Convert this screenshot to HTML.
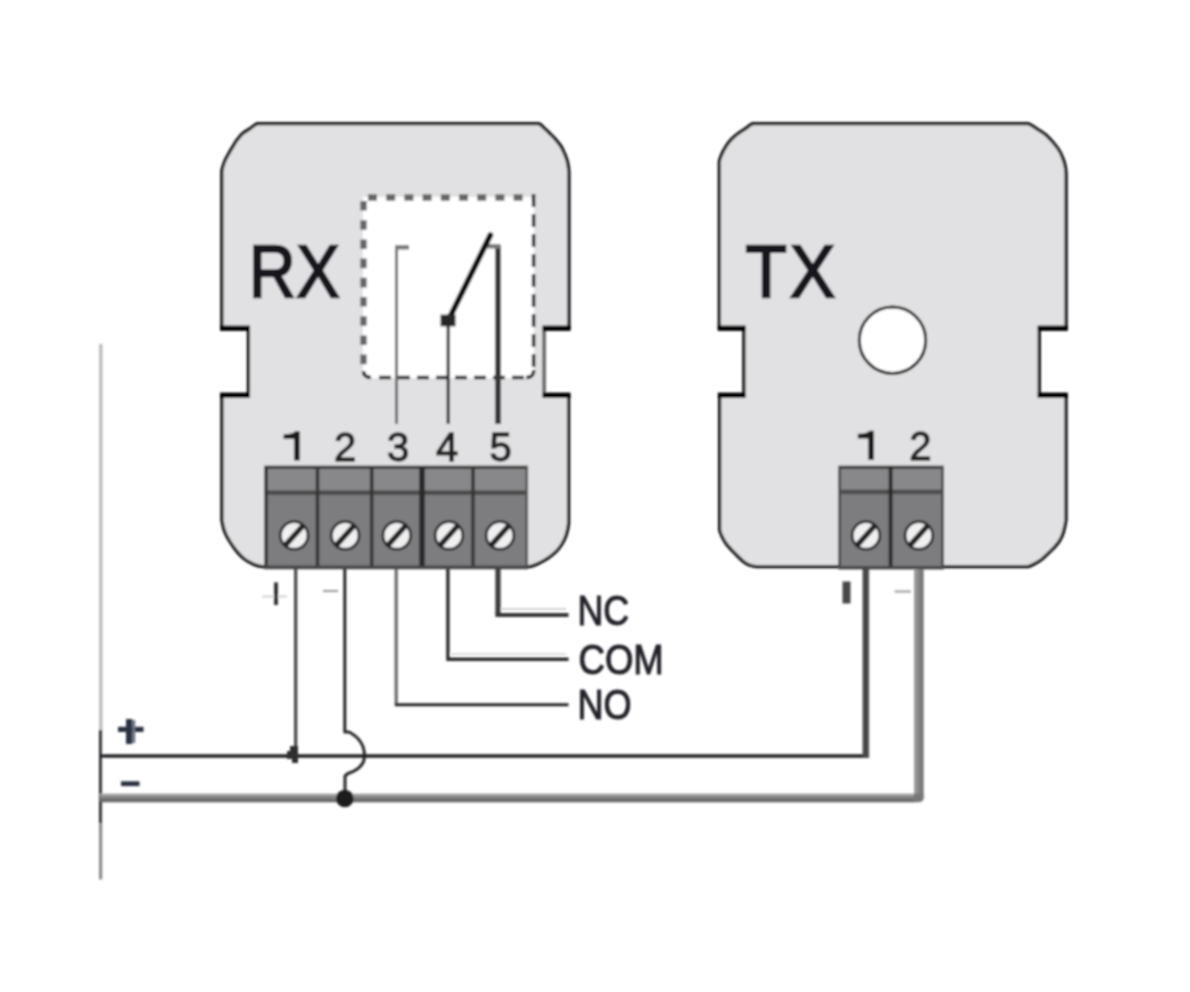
<!DOCTYPE html>
<html><head><meta charset="utf-8">
<style>
html,body{margin:0;padding:0;background:#fff;}
body{width:1190px;height:992px;overflow:hidden;font-family:"Liberation Sans",sans-serif;}
svg{display:block;}
text{font-family:"Liberation Sans",sans-serif;}
</style></head><body>
<svg width="1190" height="992" viewBox="0 0 1190 992">
<defs>
<filter id="b" x="-5%" y="-5%" width="110%" height="110%"><feGaussianBlur stdDeviation="0.9"/></filter>
<linearGradient id="mg" x1="0" y1="0" x2="0" y2="1"><stop offset="0" stop-color="#b4b4b4"/><stop offset="0.45" stop-color="#808080"/><stop offset="1" stop-color="#5e5e5e"/></linearGradient>
<linearGradient id="vg" x1="0" y1="0" x2="1" y2="0"><stop offset="0" stop-color="#a2a2a2"/><stop offset="0.5" stop-color="#868686"/><stop offset="1" stop-color="#6c6c6c"/></linearGradient>
<linearGradient id="pg" x1="0" y1="0" x2="1" y2="0"><stop offset="0" stop-color="#484848"/><stop offset="0.6" stop-color="#444"/><stop offset="1" stop-color="#666"/></linearGradient>
<g id="screw">
<circle r="13.8" fill="#f0f0f0" stroke="#2c2c2e" stroke-width="2.8"/>
<line x1="-9.2" y1="10.2" x2="9.2" y2="-10.2" stroke="#242426" stroke-width="5.4"/>
</g>
</defs>
<rect width="1190" height="992" fill="#fff"/>
<g filter="url(#b)">
<!-- left vertical line -->
<line x1="100.8" y1="344" x2="100.8" y2="879" stroke="#bcbcc0" stroke-width="3.4"/>
<line x1="100.5" y1="730" x2="100.5" y2="823" stroke="#2e2e34" stroke-width="3"/>
<line x1="100.5" y1="823" x2="100.5" y2="879.5" stroke="#8a8a8e" stroke-width="2.8"/>

<!-- RX box -->
<path id="rxbox" d="M538.7,123.7 C541.0,124.4 541.9,126.2 543.8,127.8 C545.7,129.4 548.0,131.7 550.0,133.6 C552.0,135.5 553.8,137.3 555.6,139.4 C557.4,141.5 559.3,143.7 560.8,146.0 C562.3,148.3 563.4,150.8 564.5,153.5 C565.6,156.2 566.9,159.3 567.6,162.4 C568.3,165.5 568.7,169.1 568.9,172.0 V328.2 H544.2 V395.3 H568.6 V524.0 C568.2,527.3 567.3,531.5 566.3,534.7 C565.2,538.0 564.0,540.7 562.3,543.5 C560.6,546.3 558.8,548.9 556.3,551.4 C553.8,553.9 550.7,556.3 547.6,558.4 C544.5,560.5 540.9,562.3 537.9,563.7 C534.9,565.1 532.1,566.0 529.8,566.6 H262.4 C259.6,566.4 256.4,565.6 253.5,564.3 C250.6,563.0 247.4,561.4 244.7,559.3 C241.9,557.2 239.5,554.6 237.0,551.6 C234.5,548.6 231.9,544.9 229.8,541.5 C227.7,538.1 225.9,535.1 224.6,531.5 C223.3,527.9 222.4,523.2 221.9,520.0 V395.3 H248.4 V328.2 H221.8 V171.3 C222.2,168.0 223.2,165.1 224.4,162.0 C225.6,158.9 227.7,155.5 229.2,152.7 C230.7,149.9 232.3,147.5 233.6,145.3 C234.9,143.2 235.7,141.8 237.2,139.8 C238.7,137.9 240.4,135.5 242.6,133.6 C244.8,131.7 247.9,130.0 250.4,128.3 C252.9,126.7 255.0,124.5 257.6,123.7 Z" fill="#e1e1e3" stroke="#161616" stroke-width="3.3"/>
<!-- TX box -->
<path id="txbox" d="M1028.2,123.7 C1031.0,124.5 1033.5,126.7 1036.5,128.6 C1039.5,130.5 1043.2,132.6 1046.0,135.0 C1048.8,137.4 1051.4,140.4 1053.6,143.0 C1055.8,145.6 1057.7,147.9 1059.2,150.5 C1060.8,153.1 1061.9,155.7 1062.9,158.4 C1063.9,161.1 1064.8,163.8 1065.3,166.5 C1065.8,169.2 1066.0,171.9 1066.1,174.5 V328.2 H1039.3 V395.3 H1066.0 V520.0 C1065.5,523.5 1064.2,529.6 1063.2,533.0 C1062.2,536.4 1061.1,538.3 1059.7,540.6 C1058.3,542.9 1056.5,544.8 1054.8,546.8 C1053.0,548.8 1051.3,550.3 1049.2,552.4 C1047.1,554.5 1044.3,557.3 1041.9,559.2 C1039.5,561.1 1037.0,562.5 1034.7,563.7 C1032.4,564.9 1030.7,566.1 1028.2,566.6 H756.6 C753.9,566.4 750.7,565.6 748.5,564.7 C746.3,563.8 745.2,563.0 743.3,561.5 C741.4,560.0 739.2,557.7 737.3,555.8 C735.3,553.9 733.5,552.0 731.6,550.0 C729.8,548.0 727.8,545.9 726.2,543.7 C724.7,541.6 723.4,539.4 722.3,537.1 C721.2,534.8 720.1,532.5 719.6,530.0 V395.3 H743.9 V328.2 H719.3 V161.6 C719.8,158.5 721.0,156.1 722.1,153.5 C723.2,150.9 724.5,148.6 726.0,146.3 C727.5,144.0 728.9,141.9 730.8,139.8 C732.7,137.8 735.0,135.9 737.5,134.0 C740.0,132.1 743.0,130.3 745.5,128.6 C748.0,126.9 750.0,124.5 752.6,123.7 Z" fill="#e1e1e3" stroke="#161616" stroke-width="3.3"/>
<g stroke="#050505" stroke-width="5.4" stroke-linecap="butt"><line x1="220" y1="328.2" x2="250" y2="328.2"/><line x1="220" y1="395.3" x2="250" y2="395.3"/><line x1="542.6" y1="328.2" x2="570.5" y2="328.2"/><line x1="542.6" y1="395.3" x2="570.5" y2="395.3"/><line x1="717.8" y1="328.2" x2="745.6" y2="328.2"/><line x1="717.8" y1="395.3" x2="745.6" y2="395.3"/><line x1="1037.7" y1="328.2" x2="1067.8" y2="328.2"/><line x1="1037.7" y1="395.3" x2="1067.8" y2="395.3"/></g>

<line x1="544.2" y1="331.5" x2="544.2" y2="392.5" stroke="#707070" stroke-width="3.4"/>
<!-- dashed box -->
<rect x="363" y="197" width="171" height="181" fill="#fff"/>
<line x1="368" y1="197.5" x2="534" y2="197.5" stroke="#666" stroke-width="6.4" stroke-dasharray="9,9.2"/>
<line x1="363.5" y1="201" x2="363.5" y2="372" stroke="#666" stroke-width="6.4" stroke-dasharray="9.6,9.6"/>
<line x1="533.6" y1="194" x2="533.6" y2="374" stroke="#2a2a2a" stroke-width="3.5" stroke-dasharray="13,7"/>
<line x1="379" y1="377.4" x2="530" y2="377.4" stroke="#2a2a2a" stroke-width="3.5" stroke-dasharray="12,7"/>
<path d="M363.5,371 Q363.5,377.4 371,377.4" fill="none" stroke="#2a2a2a" stroke-width="3.5"/>
<path d="M533.8,370 Q533.8,377.6 526,377.6" fill="none" stroke="#2a2a2a" stroke-width="3.5"/>

<!-- switch -->
<path d="M396.5,247 V424" fill="none" stroke="#6a6a6a" stroke-width="3"/>
<rect x="395" y="245" width="14" height="4.6" fill="#7a7a7a"/>
<path d="M448.2,319 V424" fill="none" stroke="#303030" stroke-width="3.2"/>
<path d="M498,245.5 V424" fill="none" stroke="#383838" stroke-width="6"/>
<rect x="487.5" y="244" width="13" height="4.6" fill="#7a7a7a"/>
<line x1="448" y1="321" x2="490.4" y2="235" stroke="#0c0c0c" stroke-width="5.8" stroke-linecap="round"/>
<rect x="440.5" y="314.6" width="15" height="11.8" fill="#262626"/>

<!-- text RX/TX -->
<g font-size="75" fill="#17171b" stroke="#17171b" stroke-width="2.6">
<text transform="translate(249,296.5) scale(0.86,1)">R</text>
<text transform="translate(296.5,296.5) scale(0.86,1)">X</text>
<text transform="translate(745.5,296.5) scale(0.9,1)">T</text>
<text transform="translate(790,296.5) scale(0.9,1)">X</text>
</g>

<!-- circle -->
<circle cx="892.5" cy="340.2" r="33.2" fill="#fff" stroke="#141414" stroke-width="3"/>

<!-- RX numbers -->
<g font-size="40" fill="#222" stroke="#222" stroke-width="1.3" text-anchor="middle">
<text x="345" y="460.5">2</text>
<text x="398" y="460.5">3</text>
<text x="447" y="460.5">4</text>
<text x="500.5" y="460.5">5</text>
<text x="920.3" y="460">2</text>
</g>

<g fill="#1e1e1e">
<path id="one" transform="translate(299.4,460.5)" d="M0.4,0 V-29.2 H-4.2 Q-6.4,-26.2 -15.8,-26.2 V-21.6 H-5.4 V0 Z"/>
<path transform="translate(873.6,460)" d="M0.4,0 V-29.2 H-4.2 Q-6.4,-26.2 -15.8,-26.2 V-21.6 H-5.4 V0 Z"/>
</g>
<!-- RX terminal -->
<rect x="264.6" y="466.8" width="263.4" height="101.4" fill="#7d7d80"/>
<rect x="264.6" y="466.8" width="263.4" height="25" fill="#88888b"/>
<rect x="264.6" y="465.6" width="263.4" height="3.4" fill="#3c3c3c"/>
<rect x="264.6" y="490.4" width="263.4" height="4.6" fill="#4c4c4c"/>
<g stroke="#363636" stroke-width="3.6">
<line x1="266" y1="466" x2="266" y2="569"/>
<line x1="317.5" y1="467" x2="317.5" y2="569"/>
<line x1="371.7" y1="467" x2="371.7" y2="569"/>
<line x1="422" y1="467" x2="422" y2="569" stroke-width="5.8" stroke="#2c2c2c"/>
<line x1="473" y1="467" x2="473" y2="569"/>
<line x1="526.8" y1="466" x2="526.8" y2="569" stroke="#555" stroke-width="2.6"/>
</g>
<rect x="264.6" y="565.6" width="263.4" height="3.6" fill="#444"/>
<use href="#screw" x="294.2" y="535.4"/>
<use href="#screw" x="345.2" y="535.4"/>
<use href="#screw" x="396.8" y="535.4"/>
<use href="#screw" x="449" y="535.4"/>
<use href="#screw" x="500" y="535.4"/>

<!-- TX terminal -->
<rect x="838.4" y="466.6" width="105.4" height="102" fill="#7d7d80"/>
<rect x="838.4" y="466.6" width="105.4" height="25" fill="#88888b"/>
<rect x="838.4" y="465.6" width="105.4" height="3.4" fill="#404040"/>
<rect x="838.4" y="489.6" width="105.4" height="4.6" fill="#4e4e4e"/>
<g stroke="#4c4c4c" stroke-width="2.8">
<line x1="839.6" y1="466" x2="839.6" y2="569"/>
<line x1="890.6" y1="466" x2="890.6" y2="569" stroke="#262626" stroke-width="3.8"/>
<line x1="942.6" y1="466" x2="942.6" y2="569"/>
</g>
<rect x="838.4" y="566" width="105.4" height="3.4" fill="#444"/>
<use href="#screw" x="866" y="535.4"/>
<use href="#screw" x="918.9" y="535.4"/>

<!-- wires -->
<path d="M295.7,569 V756" fill="none" stroke="#444" stroke-width="3.2"/>
<path d="M344.8,569 V732 H349 Q364.5,740 364.5,756 Q364.5,768 348,773.5 L345,776 V798" fill="none" stroke="#262626" stroke-width="3" stroke-linejoin="round"/>
<path d="M396.2,569 V704" fill="none" stroke="#6a6a6a" stroke-width="3.2"/>
<path d="M394.8,704.8 H568.5" fill="none" stroke="#262626" stroke-width="3"/>
<path d="M447.9,569 V659.3 H568.5" fill="none" stroke="#2c2c2c" stroke-width="3.4"/>
<path d="M498,569 V615" fill="none" stroke="#3a3a3a" stroke-width="5.2"/>
<path d="M495.5,615 H568.5" fill="none" stroke="#363636" stroke-width="3.8"/>
<path d="M501,609 H566" fill="none" stroke="#d0d0d0" stroke-width="2"/>
<path d="M451,654 H566" fill="none" stroke="#dcdcdc" stroke-width="2"/>
<!-- plus line -->
<path d="M100,756 H869" fill="none" stroke="#202020" stroke-width="3.3"/>
<rect x="862.6" y="569" width="6.6" height="188.5" fill="url(#pg)"/>
<!-- minus line -->
<rect x="914" y="569" width="9.6" height="230" fill="url(#vg)"/>
<path d="M100,793.6 H914.3 V802.2 H100 Z" fill="url(#mg)"/>
<path d="M914,793.6 H923.6 V798 Q923.6,802.2 918,802.2 H914 Z" fill="#777"/>
<path d="M290,746 H298 V763 H292 V759 H287 V751 H290 Z" fill="#2e2e2e"/>
<circle cx="344.8" cy="798.5" r="8.8" fill="#1c1c1c"/>

<!-- labels -->
<g font-size="42" fill="#24242a" stroke="#24242a" stroke-width="1.1">
<text transform="translate(577.5,625.4) scale(0.85,1)">NC</text>
<text transform="translate(578.5,674.2) scale(0.87,1)">COM</text>
<text transform="translate(577.5,718.8) scale(0.86,1)">NO</text>
</g>
<!-- small polarity marks -->
<g stroke="#888" stroke-width="2">
<line x1="262" y1="596.5" x2="287" y2="596.5" stroke="#d8d8d8" stroke-width="2.4"/>
<line x1="276" y1="582.4" x2="276" y2="605" stroke="#2a2a2a" stroke-width="3.8"/>
<line x1="323" y1="591" x2="338" y2="591" stroke="#999" stroke-width="2"/>
<line x1="894.6" y1="591.5" x2="910.8" y2="591.5" stroke="#999"/>
</g>
<rect x="842.5" y="581.5" width="8" height="22" fill="#4c4846"/>
<!-- big + - -->
<g fill="#2a3040">
<rect x="118" y="726.8" width="25.5" height="5.2"/>
<rect x="126" y="719" width="6.2" height="25"/><rect x="132.2" y="720" width="3" height="23" fill="#6a7080"/>
<rect x="121" y="781.3" width="18.5" height="4.8"/>
</g>
</g>
</svg>
</body></html>
